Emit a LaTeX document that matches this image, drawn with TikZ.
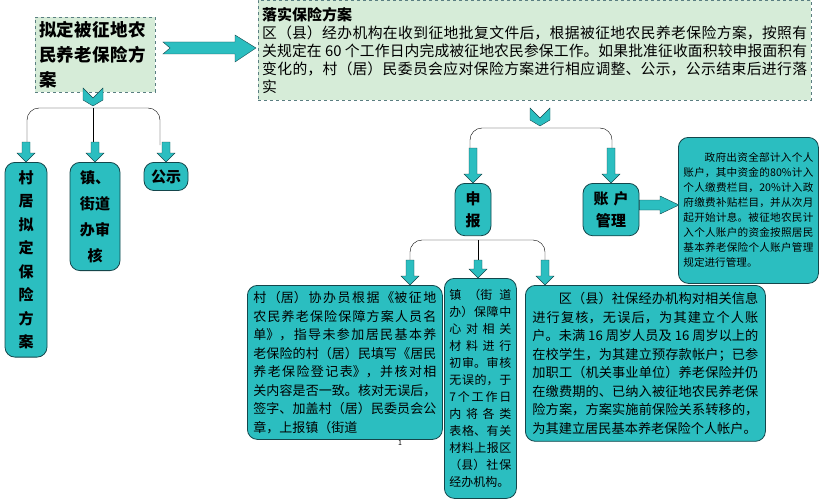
\documentclass[tikz,border=0pt]{standalone}
\usepackage{fontspec}
\setmainfont{Noto Sans CJK SC}
\usetikzlibrary{positioning}
\usetikzlibrary{calc}
\XeTeXlinebreaklocale "zh"
\XeTeXlinebreakskip=0pt plus 2pt
\definecolor{paleg}{RGB}{214,236,216}
\definecolor{tealf}{RGB}{43,190,192}
\definecolor{tealb}{RGB}{20,70,75}
\tikzset{
    planbox/.style = {draw=tealb!70,dashed,fill=paleg,anchor=north west,inner sep=4pt},
    stagebox/.style = {draw=tealb,fill=tealf,rounded corners=10pt,thick,anchor=north west,inner sep=5pt},
    tagbox/.style = {stagebox,font=\fontsize{15}{22}\selectfont\bfseries,align=center,anchor=north},
    fatarrow/.style = {draw=tealb,fill=tealf},
    branch/.style = {draw=black,thin,rounded corners=12pt}}
% downward block arrow with its tip at #1
\newcommand{\downarr}[2]{\draw[fatarrow] ($(#1)+(-4,-#2)$) -- ($(#1)+(4,-#2)$) -- ($(#1)+(4,-9)$) -- ($(#1)+(9,-9)$) -- (#1) -- ($(#1)+(-9,-9)$) -- ($(#1)+(-4,-9)$) -- cycle;}
% notched chevron pointing down, tip at #1
\newcommand{\chevron}[1]{\draw[fatarrow] ($(#1)+(-10,-18)$) -- ($(#1)+(0,-8)$) -- ($(#1)+(10,-18)$) -- ($(#1)+(10,-6)$) -- (#1) -- ($(#1)+(-10,-6)$) -- cycle;}
\begin{document}
\begin{tikzpicture}[x=1pt,y=-1pt]
\useasboundingbox (0,0) rectangle (829,500);
% top row
\node[planbox,text width=112pt,font=\fontsize{17.5}{25}\selectfont\bfseries,minimum height=73pt] (plan) at (35,17) {拟定被征地农民养老保险方案};
\node[planbox,text width=545pt,font=\fontsize{14.8}{18}\selectfont,align=justify,minimum height=100pt] (carry) at (258,0)
  {{\fontsize{15}{20}\selectfont\bfseries 落实保险方案}\par 区（县）经办机构在收到征地批复文件后，根据被征地农民养老保险方案，按照有关规定在 60 个工作日内完成被征地农民参保工作。如果批准征收面积较申报面积有变化的，村（居）民委员会应对保险方案进行相应调整、公示，公示结束后进行落实};
\draw[fatarrow] (163,42) -- (235,42) -- (235,35) -- (256,48) -- (235,62) -- (235,54) -- (163,54) -- (170,48) -- cycle;
% left column
\chevron{93,106}
\draw[branch] (27,145) |- (93,108) -| (160,145);
\draw[branch] (93,108) -- (93,145);
\node[tagbox,text width=26pt,inner sep=8pt,font=\fontsize{15}{23.5}\selectfont\bfseries] (village) at (26,162) {村\\居\\拟\\定\\保\\险\\方\\案};
\node[tagbox,text width=34pt,inner sep=8pt,font=\fontsize{15}{26}\selectfont\bfseries] (town) at (95,162) {镇、\\街道\\办审\\核};
\node[tagbox,text width=30pt,inner sep=7pt,font=\fontsize{15}{20}\selectfont\bfseries] (notice) at (166,162) {公示};
\foreach \c in {village,town,notice} \downarr{\c.north}{20};
% middle row
\chevron{540,126}
\draw[branch] (470,150) |- (540,128) -| (612,150);
\node[tagbox,text width=20pt,inner sep=8pt] (report) at (473,183) {申\\报};
\node[tagbox,text width=40pt,inner sep=8pt] (account) at (611,183) {账 户\\管理};
\downarr{report.north}{35}
\downarr{account.north}{35}
\node[stagebox,text width=130pt,font=\fontsize{10.6}{15}\selectfont,align=justify,minimum height=146pt] (fund) at (678,137)
  {\hspace*{2em}政府出资全部计入个人账户，其中资金的80\%计入个人缴费栏目，20\%计入政府缴费补贴栏目，并从次月起开始计息。被征地农民计入个人账户的资金按照居民基本养老保险个人账户管理规定进行管理。};
\draw[fatarrow] (account.east|-0,200) -- (660,200) -- (660,196) -- (679,205) -- (660,214) -- (660,210) -- (account.east|-0,210) -- cycle;
% bottom row
\draw[branch] (410,262) |- (478,240) -| (545,262);
\draw[branch] (478,240) -- (478,262);
\node[stagebox,text width=183pt,font=\fontsize{13}{18.5}\selectfont,align=justify,inner sep=6pt,minimum height=150pt] (fill) at (247,285)
  {村（居）协办员根据《被征地农民养老保险保障方案人员名单》，指导未参加居民基本养老保险的村（居）民填写《居民养老保险登记表》，并核对相关内容是否一致。核对无误后，签字、加盖村（居）民委员会公章，上报镇（街道};
\node[stagebox,text width=62pt,font=\fontsize{12}{17}\selectfont,align=justify,inner sep=5pt,minimum height=220pt] (check) at (444,278)
  {镇（街道办）保障中心对相关材料进行初审。审核无误的，于7个工作日内将各类表格、有关材料上报区（县）社保经办机构。};
\node[stagebox,text width=226pt,font=\fontsize{13.2}{18.5}\selectfont,align=justify,inner sep=7pt,minimum height=155pt] (open) at (525,285)
  {\hspace*{2em}区（县）社保经办机构对相关信息进行复核，无误后，为其建立个人账户。未满 16 周岁人员及 16 周岁以上的在校学生，为其建立预存款帐户；已参加职工（机关事业单位）养老保险并仍在缴费期的、已纳入被征地农民养老保险方案，方案实施前保险关系转移的，为其建立居民基本养老保险个人帐户。};
\downarr{410,285}{25}
\downarr{478,278}{18}
\downarr{545,285}{25}
\node[font=\fontsize{7}{8}\selectfont] (pageno) at (400,443) {1};
\end{tikzpicture}
\end{document}
